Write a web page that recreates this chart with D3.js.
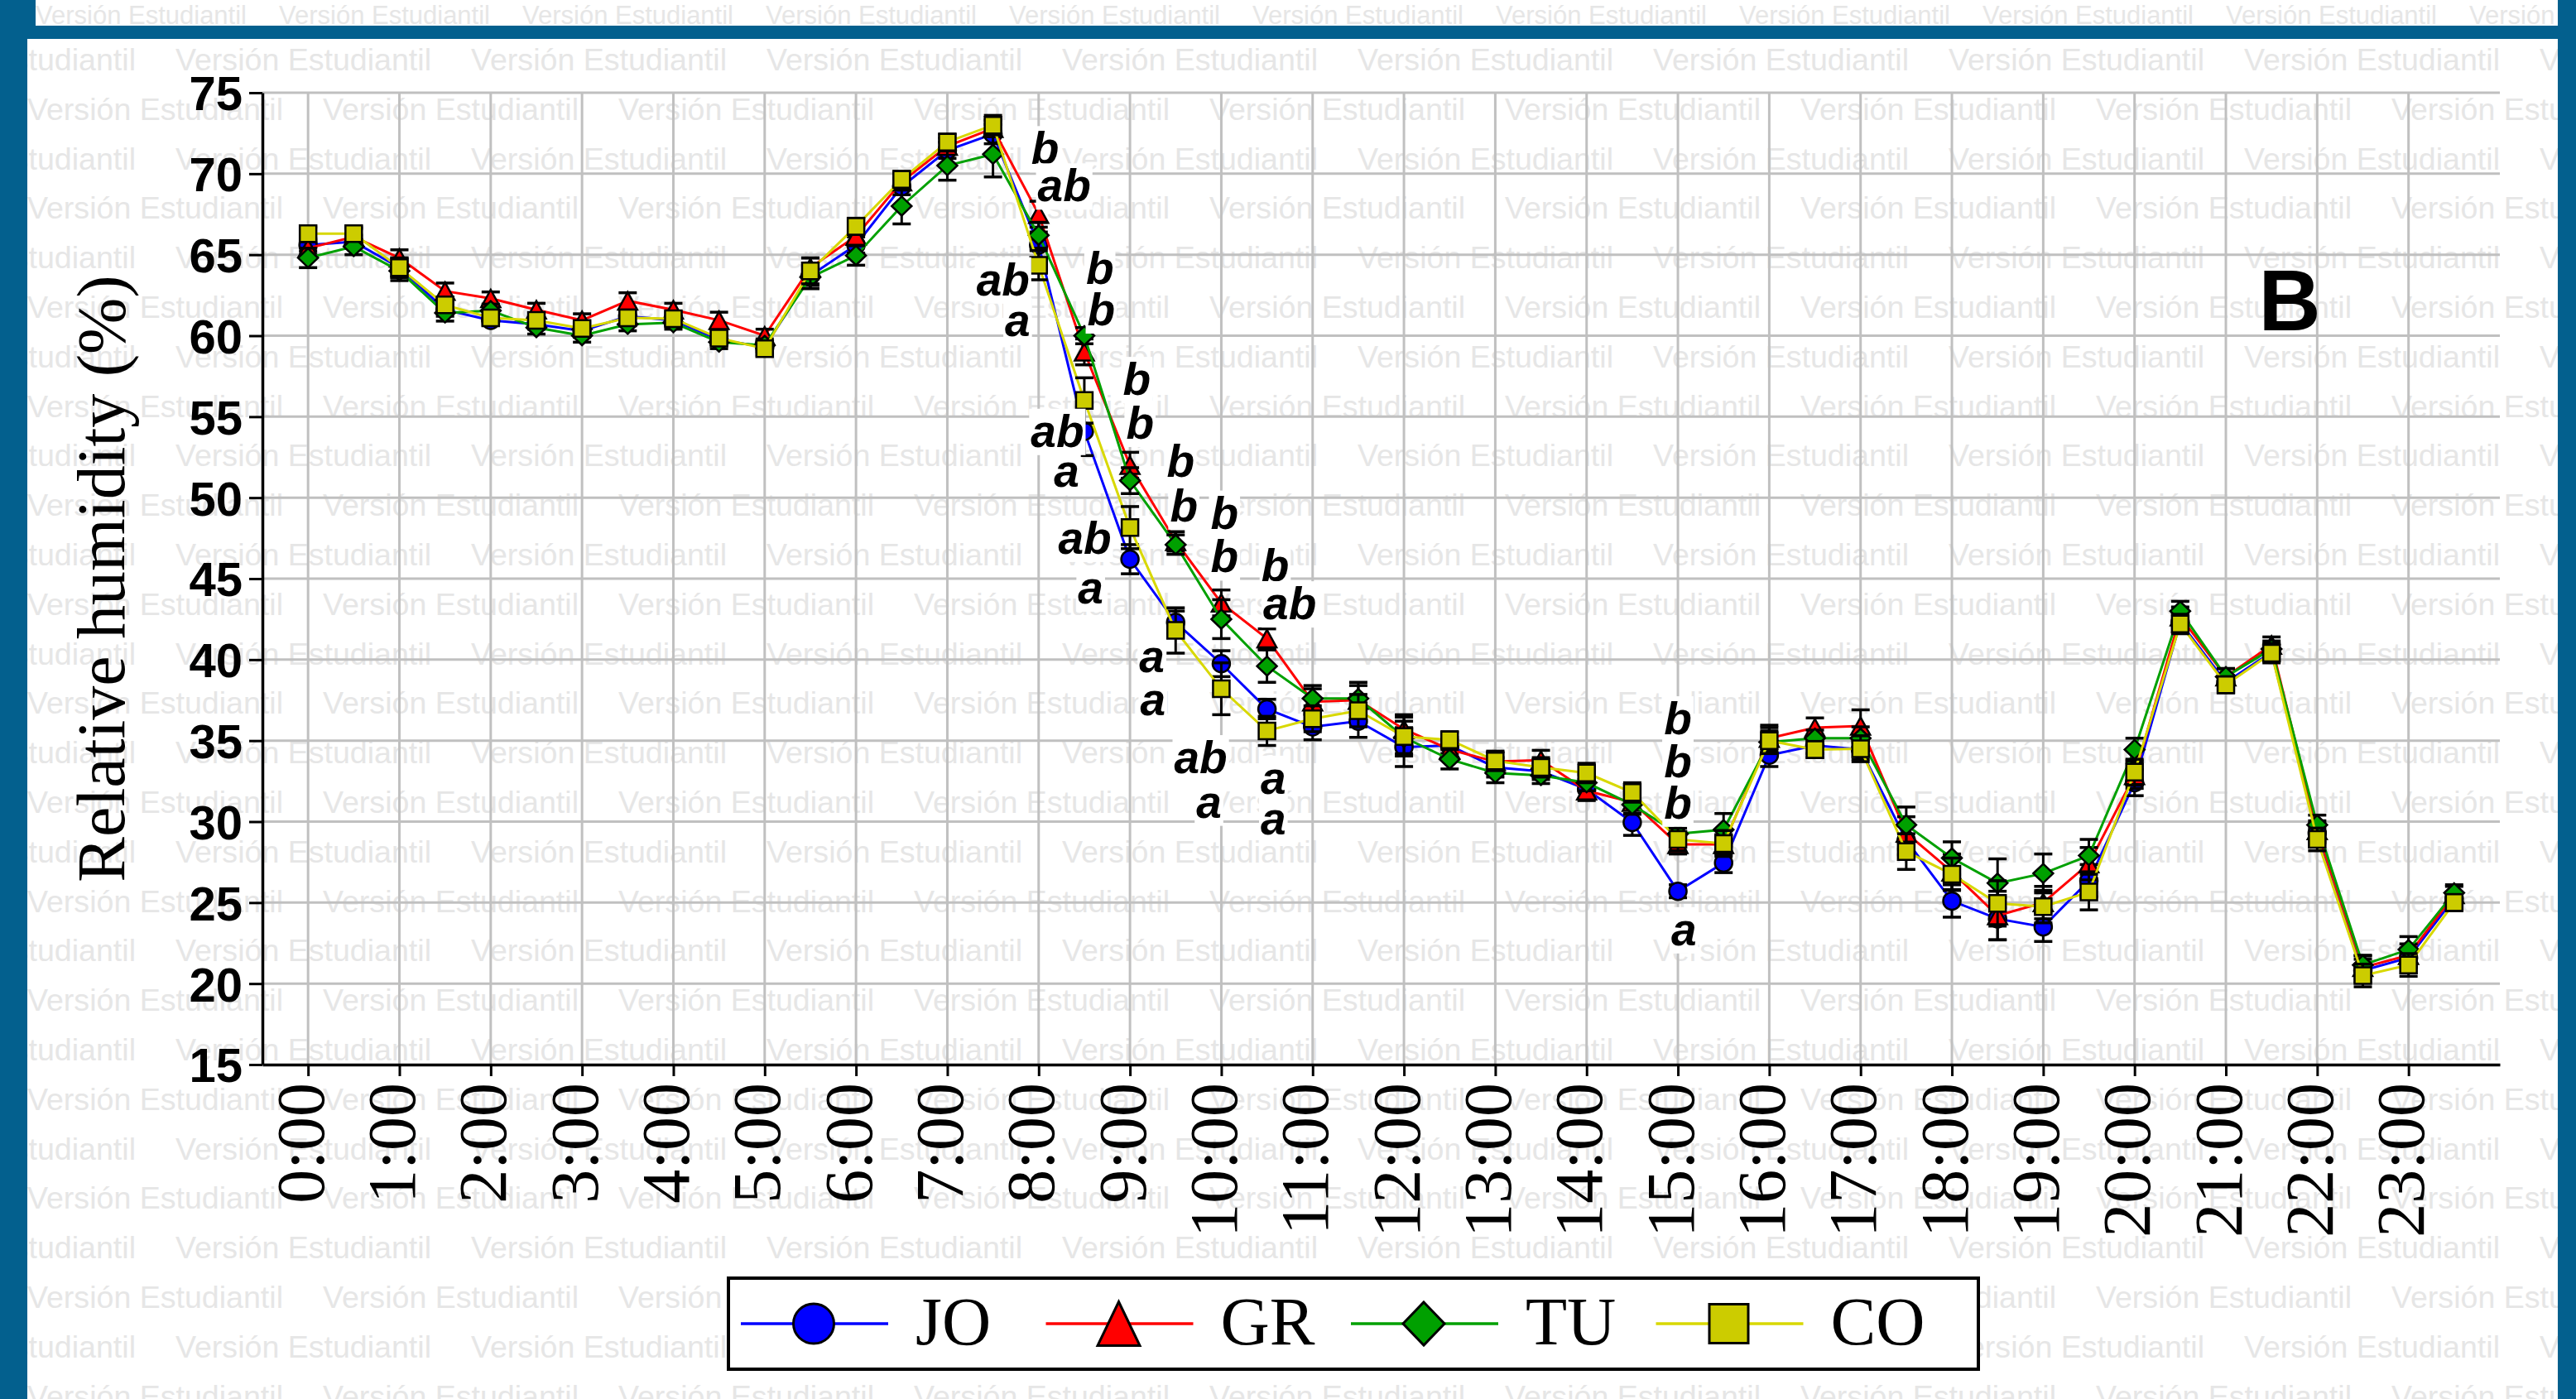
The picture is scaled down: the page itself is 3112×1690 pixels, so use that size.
<!DOCTYPE html>
<html>
<head>
<meta charset="utf-8">
<script src="https://cdn.jsdelivr.net/npm/d3@7"></script>
<style>
  body { margin: 0; background: #fff; }
  svg { display: block; }
</style>
</head>
<body>
<div id="chart"></div>
<script>
// half-hour slots
var times = ["0:00","0:30","1:00","1:30","2:00","2:30","3:00","3:30","4:00","4:30","5:00","5:30",
  "6:00","6:30","7:00","7:30","8:00","8:30","9:00","9:30","10:00","10:30","11:00","11:30",
  "12:00","12:30","13:00","13:30","14:00","14:30","15:00","15:30","16:00","16:30","17:00","17:30",
  "18:00","18:30","19:00","19:30","20:00","20:30","21:00","21:30","22:00","22:30","23:00","23:30"];
var hourTicks = ["0:00","1:00","2:00","3:00","4:00","5:00","6:00","7:00","8:00","9:00","10:00","11:00",
  "12:00","13:00","14:00","15:00","16:00","17:00","18:00","19:00","20:00","21:00","22:00","23:00"];
var yTicks = [15,20,25,30,35,40,45,50,55,60,65,70,75];
var seriesNames = ["JO","GR","TU","CO"];

var joValues = [65.6,65.8,64.2,61.6,60.95,60.7,60.3,61.2,60.95,59.75,59.3,63.7,65.6,69.2,71.45,72.45,
  65.6,54.1,46.2,42.3,39.75,36.95,35.85,36.2,34.6,34.7,33.35,33.1,32.0,29.95,25.7,27.45,
  34.1,34.7,34.45,28.85,25.1,24.0,23.5,26.35,32.4,42.3,38.6,40.45,29.3,20.8,21.6,25.25];
var grValues = [65.4,66.1,64.8,62.75,62.3,61.6,60.95,62.15,61.6,60.95,60.0,64.2,66.15,69.5,71.7,72.8,
  67.5,59.0,52.0,47.3,43.5,41.3,37.4,37.5,35.7,34.45,33.7,33.8,31.9,31.2,28.6,28.6,
  35.15,35.8,35.9,29.3,26.9,24.2,25.0,27.4,32.85,42.65,38.95,40.9,29.45,21.0,21.75,25.5];
var tuValues = [64.8,65.5,64.0,61.4,61.55,60.5,60.0,60.7,60.8,59.6,59.4,63.6,64.95,68.0,70.5,71.2,
  66.2,60.0,51.05,47.1,42.5,39.6,37.6,37.6,35.2,33.85,33.0,32.85,32.4,31.05,29.25,29.5,
  34.9,35.15,35.15,29.8,27.75,26.2,26.8,27.9,34.45,43.0,38.95,40.65,29.8,21.15,22.1,25.6];
var coValues = [66.3,66.3,64.2,61.9,61.1,60.95,60.45,61.1,61.05,59.85,59.2,64.0,66.75,69.65,71.95,73.0,
  64.35,56.0,48.15,41.8,38.2,35.6,36.35,36.85,35.25,35.05,33.75,33.35,33.0,31.8,28.9,28.65,
  35.0,34.45,34.5,28.15,26.75,24.95,24.75,25.65,33.05,42.2,38.45,40.4,28.9,20.5,21.15,25.0];

// error bars (+/-)
var joErr = [0.4,0.4,0.6,0.4,0.3,0.3,0.4,0.4,0.3,0.3,0.3,0.6,0.5,0.5,0.5,0.6,0.8,1.5,0.9,0.7,0.8,0.6,0.8,1.0,
  1.2,0.5,0.6,0.5,0.6,0.8,0.4,0.6,0.7,0.5,0.6,0.9,1.0,1.3,0.9,1.0,0.8,0.6,0.4,0.5,0.6,0.7,0.6,0.4];
var grErr = [0.4,0.5,0.5,0.5,0.4,0.4,0.4,0.5,0.4,0.5,0.4,0.6,0.5,0.5,0.5,0.5,0.8,0.8,0.8,0.6,0.8,0.6,0.8,0.9,
  0.9,0.6,0.6,0.6,0.6,0.7,0.6,0.6,0.8,0.6,1.0,1.0,1.1,1.5,1.0,1.0,0.8,0.6,0.5,0.5,0.6,0.7,0.7,0.5];
var tuErr = [0.6,0.5,0.6,0.5,0.4,0.4,0.4,0.4,0.4,0.4,0.4,0.7,0.6,1.1,0.9,1.4,0.8,0.5,0.8,0.6,1.2,1.0,0.8,1.0,
  1.0,0.6,0.6,0.5,0.5,0.6,0.8,1.0,0.7,0.5,0.7,1.1,1.0,1.5,1.2,1.0,0.7,0.6,0.5,0.5,0.6,0.6,0.8,0.5];
var coErr = [0.4,0.4,0.6,0.4,0.4,0.4,0.4,0.4,0.4,0.4,0.4,0.8,0.5,0.5,0.5,0.6,0.9,1.4,1.3,1.4,1.6,0.9,0.8,1.0,
  1.2,0.5,0.6,0.6,0.6,0.6,0.7,0.8,0.8,0.5,0.8,1.1,1.0,1.4,1.0,1.1,0.8,0.6,0.5,0.6,0.7,0.7,0.7,0.5];

// significance letters: time, letter, level (% RH), shift in half-hour slots
var letters = [
  ["8:00","b",71.6,0.14],["8:00","ab",69.3,0.56],["8:00","ab",63.5,-0.78],["8:00","a",60.7,-0.46],
  ["8:30","b",64.2,0.34],["8:30","b",61.65,0.37],["8:30","ab",54.15,-0.59],["8:30","a",51.4,-0.39],
  ["9:00","b",57.35,0.15],["9:00","b",54.65,0.22],["9:00","ab",47.55,-0.99],["9:00","a",44.2,-0.86],
  ["9:30","b",52.3,0.11],["9:30","b",49.55,0.18],["9:30","a",39.98,-0.52],["9:30","a",37.3,-0.5],
  ["10:00","b",49.1,0.07],["10:00","b",46.4,0.07],["10:00","ab",34.0,-0.45],["10:00","a",30.98,-0.27],
  ["10:30","b",45.85,0.18],["10:30","ab",43.5,0.5],["10:30","a",32.45,0.14],["10:30","a",29.95,0.14],
  ["15:00","b",36.4,0],["15:00","b",33.75,0],["15:00","b",31.2,0],["15:00","a",23.1,0.13]
];

(function() {
  var W = 3112, H = 1690;
  var plotLeft = 317, plotRight = 3020, plotTop = 112, plotBottom = 1286;

  var svg = d3.select("#chart").append("svg")
    .attr("width", W).attr("height", H);

  // blue frame
  svg.append("rect").attr("width", W).attr("height", H).attr("fill", "#03608e");
  svg.append("rect").attr("x", 43).attr("y", 0).attr("width", 3047).attr("height", 31).attr("fill", "#fff");
  svg.append("rect").attr("x", 33).attr("y", 47).attr("width", 3057).attr("height", H - 47).attr("fill", "#fff");

  var defs = svg.append("defs");
  defs.append("clipPath").attr("id", "clipTop")
    .append("rect").attr("x", 43).attr("y", 0).attr("width", 3047).attr("height", 31);
  defs.append("clipPath").attr("id", "clipMain")
    .append("rect").attr("x", 33).attr("y", 47).attr("width", 3057).attr("height", H - 47);

  // watermark
  var wmTop = svg.append("g").attr("clip-path", "url(#clipTop)");
  for (var x0 = 43; x0 < W; x0 += 294) {
    wmTop.append("text").attr("x", x0).attr("y", 29)
      .attr("textLength", 255).attr("lengthAdjust", "spacingAndGlyphs")
      .style("font", "31px 'Liberation Sans', Arial, sans-serif").attr("fill", "#e6e6e6")
      .text("Versión Estudiantil");
  }
  var wm = svg.append("g").attr("clip-path", "url(#clipMain)");
  for (var k = 0; k < 28; k++) {
    var by = 85 + 59.8 * k;
    var start = (k % 2 == 0) ? -145 : 33;
    for (var x1 = start; x1 < W; x1 += 357) {
      wm.append("text").attr("x", x1).attr("y", by)
        .attr("textLength", 309).attr("lengthAdjust", "spacingAndGlyphs")
        .style("font", "36px 'Liberation Sans', Arial, sans-serif").attr("fill", "#e6e6e6")
        .text("Versión Estudiantil");
    }
  }

  // scales
  var x = d3.scalePoint().domain(times).range([plotLeft, plotRight]).padding(1);
  var y = d3.scaleLinear().domain([15, 75]).range([plotBottom, plotTop]);

  // grid
  svg.append("g").selectAll("line").data(yTicks.filter(function(d){ return d > 15; }))
    .enter().append("line")
    .attr("x1", plotLeft).attr("x2", plotRight)
    .attr("y1", function(d){ return y(d); }).attr("y2", function(d){ return y(d); })
    .attr("stroke", "#c0c0c0").attr("stroke-width", 3);
  svg.append("g").selectAll("line").data(hourTicks)
    .enter().append("line")
    .attr("x1", function(d){ return x(d); }).attr("x2", function(d){ return x(d); })
    .attr("y1", plotTop).attr("y2", plotBottom)
    .attr("stroke", "#c0c0c0").attr("stroke-width", 3);

  // axes
  var yAxis = svg.append("g").attr("transform", "translate(" + plotLeft + ",0)")
    .call(d3.axisLeft(y).tickValues(yTicks).tickSize(16).tickSizeOuter(0));
  yAxis.select(".domain").attr("stroke", "#000").attr("stroke-width", 3.5);
  yAxis.selectAll(".tick line").attr("stroke", "#000").attr("stroke-width", 3);
  yAxis.selectAll(".tick text")
    .attr("x", -24).attr("dy", "0.36em")
    .style("font", "bold 58px 'Liberation Sans', Arial, sans-serif").attr("fill", "#000");

  var xAxis = svg.append("g").attr("transform", "translate(0," + plotBottom + ")")
    .call(d3.axisBottom(x).tickValues(hourTicks).tickSize(14).tickSizeOuter(0));
  xAxis.select(".domain").attr("stroke", "#000").attr("stroke-width", 3.5);
  xAxis.selectAll(".tick line").attr("stroke", "#000").attr("stroke-width", 3);
  xAxis.selectAll(".tick text")
    .attr("transform", "rotate(-90)")
    .attr("x", -22).attr("y", 18).attr("dy", 0)
    .attr("text-anchor", "end")
    .style("font", "82px 'Liberation Serif', 'Times New Roman', serif").attr("fill", "#000");

  svg.append("text")
    .attr("transform", "translate(150," + ((plotTop + plotBottom) / 2) + ") rotate(-90)")
    .attr("text-anchor", "middle")
    .style("font", "82px 'Liberation Serif', 'Times New Roman', serif")
    .text("Relative humidity (%)");

  // marker shapes
  function shape(type, w, h) {
    if (type == "circle") {
      return "M" + (-w/2) + ",0A" + (w/2) + "," + (h/2) + " 0 1,0 " + (w/2) + ",0A" + (w/2) + "," + (h/2) + " 0 1,0 " + (-w/2) + ",0Z";
    }
    if (type == "triangle") {
      return "M0," + (-h/2) + "L" + (w/2) + "," + (h/2) + "L" + (-w/2) + "," + (h/2) + "Z";
    }
    if (type == "diamond") {
      return "M0," + (-h/2) + "L" + (w/2) + ",0L0," + (h/2) + "L" + (-w/2) + ",0Z";
    }
    return "M" + (-w/2) + "," + (-h/2) + "H" + (w/2) + "V" + (h/2) + "H" + (-w/2) + "Z";
  }

  var series = [
    {name: seriesNames[0], values: joValues, err: joErr, line: "#0000ff", fill: "#0000ff", type: "circle", w: 21, h: 21},
    {name: seriesNames[1], values: grValues, err: grErr, line: "#ff0000", fill: "#ff0000", type: "triangle", w: 23, h: 21},
    {name: seriesNames[2], values: tuValues, err: tuErr, line: "#00a000", fill: "#00a000", type: "diamond", w: 24, h: 23},
    {name: seriesNames[3], values: coValues, err: coErr, line: "#d8d800", fill: "#cccc00", type: "square", w: 20, h: 20}
  ];

  var line = d3.line()
    .x(function(d, i){ return x(times[i]); })
    .y(function(d){ return y(d); });

  series.forEach(function(s) {
    var g = svg.append("g");
    g.append("path").datum(s.values)
      .attr("d", line).attr("fill", "none")
      .attr("stroke", s.line).attr("stroke-width", 3);

    var eb = g.append("g").selectAll("g").data(s.values).enter().append("g");
    eb.append("line")
      .attr("x1", function(d, i){ return x(times[i]); }).attr("x2", function(d, i){ return x(times[i]); })
      .attr("y1", function(d, i){ return y(d + s.err[i]); }).attr("y2", function(d, i){ return y(d - s.err[i]); })
      .attr("stroke", "#000").attr("stroke-width", 3);
    [1, -1].forEach(function(sgn) {
      eb.append("line")
        .attr("x1", function(d, i){ return x(times[i]) - 11; }).attr("x2", function(d, i){ return x(times[i]) + 11; })
        .attr("y1", function(d, i){ return y(d + sgn * s.err[i]); }).attr("y2", function(d, i){ return y(d + sgn * s.err[i]); })
        .attr("stroke", "#000").attr("stroke-width", 3.5);
    });

    g.append("g").selectAll("path").data(s.values).enter().append("path")
      .attr("transform", function(d, i){ return "translate(" + x(times[i]) + "," + y(d) + ")"; })
      .attr("d", shape(s.type, s.w, s.h))
      .attr("fill", s.fill).attr("stroke", "#000").attr("stroke-width", 2.5);
  });

  // significance letters with white boxes
  var step = x.step();
  var lg = svg.append("g");
  letters.forEach(function(l) {
    var cx = x(l[0]) + l[3] * step;
    var cy = y(l[2]);
    var fs = 55;
    var base = cy + (l[1].indexOf("b") >= 0 ? 0.36 : 0.26) * fs;
    var t = lg.append("text")
      .attr("x", cx).attr("y", base).attr("text-anchor", "middle")
      .style("font", "italic bold " + fs + "px 'Liberation Sans', Arial, sans-serif")
      .text(l[1]);
    var bb = t.node().getBBox();
    lg.insert("rect", function(){ return t.node(); })
      .attr("x", bb.x - 2).attr("y", bb.y + 4).attr("width", bb.width + 4).attr("height", bb.height - 6)
      .attr("fill", "#fff");
  });

  // panel letter
  svg.append("text").attr("x", 2766).attr("y", 399).attr("text-anchor", "middle")
    .style("font", "bold 104px 'Liberation Sans', Arial, sans-serif").text("B");

  // legend
  var legend = svg.append("g");
  legend.append("rect").attr("x", 880).attr("y", 1544).attr("width", 1510).attr("height", 110)
    .attr("fill", "#fff").attr("stroke", "#000").attr("stroke-width", 4);
  var legendSizes = [[49, 48], [51, 53], [50, 52], [47, 47]];
  series.forEach(function(s, i) {
    var lx = 895 + i * 368.5, ly = 1599;
    legend.append("line").attr("x1", lx).attr("x2", lx + 178).attr("y1", ly).attr("y2", ly)
      .attr("stroke", s.line).attr("stroke-width", 3.5);
    legend.append("path").attr("transform", "translate(" + (lx + 88) + "," + ly + ")")
      .attr("d", shape(s.type, legendSizes[i][0], legendSizes[i][1]))
      .attr("fill", s.fill).attr("stroke", "#000").attr("stroke-width", 3);
    legend.append("text").attr("x", lx + 211).attr("y", 1624)
      .style("font", "82px 'Liberation Serif', 'Times New Roman', serif")
      .text(s.name);
  });
})();
</script>
</body>
</html>
